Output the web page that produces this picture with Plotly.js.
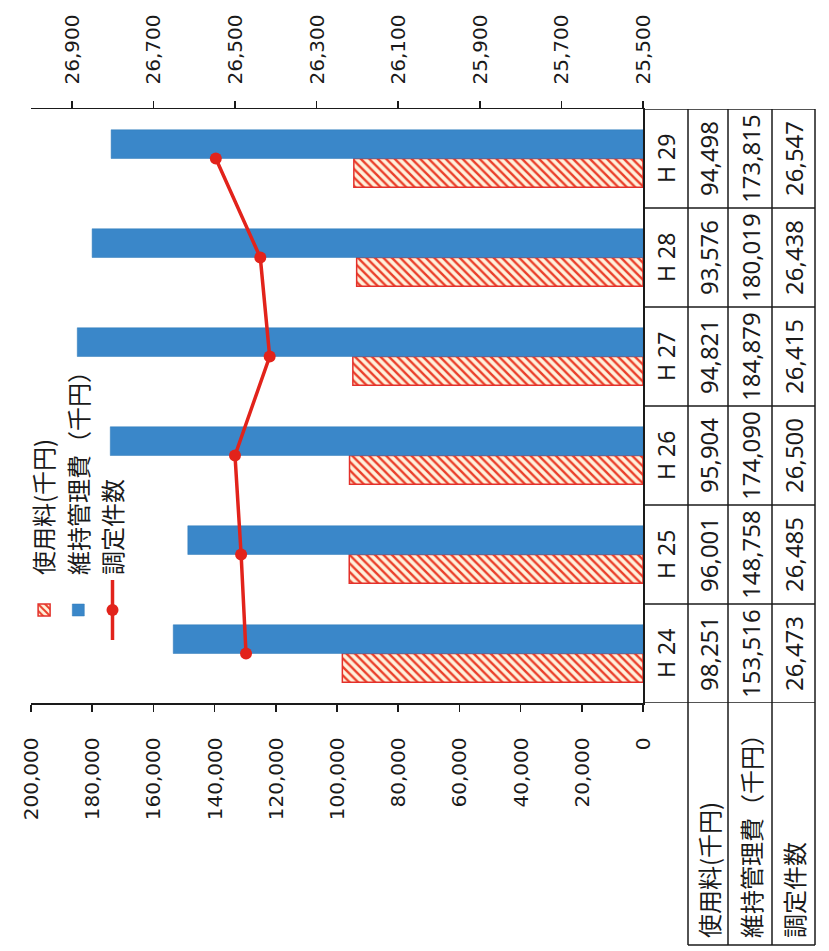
<!DOCTYPE html>
<html>
<head>
<meta charset="utf-8">
<script src="https://cdn.plot.ly/plotly-3.0.1.min.js"></script>
<style>
html,body{margin:0;padding:0;overflow:hidden;background:#ffffff;width:829px;height:951px;}
#wrap{position:absolute;left:0;top:0;width:951px;height:829px;transform-origin:0 0;transform:translate(0,951px) rotate(-90deg);}
#chart{width:951px;height:829px;}
</style>
</head>
<body>
<div id="wrap"><div id="chart"></div></div>
<script>
// ---- data ----
const categories = ['H24', 'H25', 'H26', 'H27', 'H28', 'H29'];
const categoryLabels = ['H 24', 'H 25', 'H 26', 'H 27', 'H 28', 'H 29'];
const usageFee = [98251, 96001, 95904, 94821, 93576, 94498];          // 使用料(千円)
const maintenanceCost = [153516, 148758, 174090, 184879, 180019, 173815]; // 維持管理費（千円）
const assessedCount = [26473, 26485, 26500, 26415, 26438, 26547];     // 調定件数
const seriesNames = ['使用料(千円)', '維持管理費（千円）', '調定件数'];
const rowLabels = ['使用料(千円)', '維持管理費（千円）', '調定件数'];
const secondaryTicks = [25500, 25700, 25900, 26100, 26300, 26500, 26700, 26900];

// ---- layout helpers (chart drawn in its upright frame, then the page rotates it) ----
const W = 951, H = 829;
const ML = 248, MR = 109, MT = 31, MB = 186;
const PW = W - ML - MR, PH = H - MT - MB;
const px = xp => (xp - ML) / PW;
const py = yp => (H - MB - yp) / PH;
const fmt = v => v.toLocaleString('en-US');

const CJK = '"Noto Sans CJK JP", "Noto Sans", sans-serif';
const NUM = '"Noto Sans", "DejaVu Sans", sans-serif';
const AX = '"DejaVu Sans", Verdana, sans-serif';

const traces = [
  {
    type: 'bar', name: seriesNames[0], x: categories, y: usageFee,
    marker: {
      color: '#fff1dc',
      line: {color: '#e3302a', width: 1.5},
      pattern: {shape: '/', fgcolor: '#ea3f2a', bgcolor: '#fff1dc', size: 6, solidity: 0.4}
    },
    hoverinfo: 'skip'
  },
  {
    type: 'bar', name: seriesNames[1], x: categories, y: maintenanceCost,
    marker: {color: '#3a87c9', line: {color: '#2f78b8', width: 0.5}},
    hoverinfo: 'skip'
  },
  {
    type: 'scatter', mode: 'lines+markers', name: seriesNames[2], x: categories, y: assessedCount,
    yaxis: 'y2',
    line: {color: '#e2231b', width: 3.5},
    marker: {color: '#e2231b', size: 12, symbol: 'circle'},
    cliponaxis: false,
    hoverinfo: 'skip'
  }
];

// ---- data table beneath the category axis ----
const rowY = [666, 708, 750, 793];       // row centres (px)
const rowEdges = [688, 728, 772, 815];   // horizontal rules (px)
const annotations = [];
categories.forEach((c, i) => {
  annotations.push({xref: 'x', yref: 'paper', x: c, y: py(rowY[0]), text: categoryLabels[i], showarrow: false,
    font: {family: NUM, size: 23, color: '#1a1a1a'}, xanchor: 'center', yanchor: 'middle'});
  annotations.push({xref: 'x', yref: 'paper', x: c, y: py(rowY[1]), text: fmt(usageFee[i]), showarrow: false,
    font: {family: NUM, size: 24, color: '#1a1a1a'}, xanchor: 'center', yanchor: 'middle'});
  annotations.push({xref: 'x', yref: 'paper', x: c, y: py(rowY[2]), text: fmt(maintenanceCost[i]), showarrow: false,
    font: {family: NUM, size: 24, color: '#1a1a1a'}, xanchor: 'center', yanchor: 'middle'});
  annotations.push({xref: 'x', yref: 'paper', x: c, y: py(rowY[3]), text: fmt(assessedCount[i]), showarrow: false,
    font: {family: NUM, size: 24, color: '#1a1a1a'}, xanchor: 'center', yanchor: 'middle'});
});
rowLabels.forEach((t, r) => {
  annotations.push({xref: 'paper', yref: 'paper', x: px(11), y: py(rowY[r + 1]), text: t, showarrow: false,
    font: {family: CJK, size: 24, color: '#1a1a1a'}, xanchor: 'left', yanchor: 'middle'});
});

const shapes = [];
const lineStyle = {color: '#1a1a1a', width: 1.5};
// horizontal rules
rowEdges.forEach(yp => {
  shapes.push({type: 'line', xref: 'paper', yref: 'paper', x0: px(6), x1: 1, y0: py(yp), y1: py(yp), line: lineStyle});
});
// vertical rules between categories
for (let i = 0; i <= categories.length; i++) {
  shapes.push({type: 'line', xref: 'x', yref: 'paper', x0: i - 0.5, x1: i - 0.5, y0: 0, y1: py(rowEdges[3]), line: lineStyle});
}
// left edge of row-label column
shapes.push({type: 'line', xref: 'paper', yref: 'paper', x0: px(6), x1: px(6), y0: py(rowEdges[0]), y1: py(rowEdges[3]), line: lineStyle});

const layout = {
  width: W, height: H,
  margin: {l: ML, r: MR, t: MT, b: MB, pad: 0},
  paper_bgcolor: '#ffffff', plot_bgcolor: '#ffffff',
  barmode: 'group', bargap: 0.42, bargroupgap: 0,
  showlegend: true,
  legend: {
    x: px(306), y: py(22), xanchor: 'left', yanchor: 'top',
    bgcolor: 'rgba(0,0,0,0)', font: {family: CJK, size: 24, color: '#1a1a1a'},
    itemwidth: 60, traceorder: 'normal'
  },
  xaxis: {
    type: 'category', range: [-0.5, 5.5], showticklabels: false, ticks: '',
    showline: true, linecolor: '#1a1a1a', linewidth: 1.5, showgrid: false, zeroline: false, fixedrange: true
  },
  yaxis: {
    range: [0, 200000], dtick: 20000, tickformat: ',', showgrid: false, zeroline: false,
    showline: true, linecolor: '#1a1a1a', linewidth: 1.5, ticks: 'outside', ticklen: 7, tickwidth: 1.5,
    tickcolor: '#1a1a1a', ticklabelstandoff: 22,
    tickfont: {family: AX, size: 20, color: '#1a1a1a'}, fixedrange: true
  },
  yaxis2: {
    overlaying: 'y', side: 'right', range: [25500, 27000], tickvals: secondaryTicks, tickformat: ',',
    showgrid: false, zeroline: false, showline: true, linecolor: '#1a1a1a', linewidth: 1.5,
    ticks: 'outside', ticklen: 7, tickwidth: 1.5, tickcolor: '#1a1a1a', ticklabelstandoff: 12,
    tickfont: {family: AX, size: 20, color: '#1a1a1a'}, fixedrange: true
  },
  annotations: annotations,
  shapes: shapes
};

Plotly.newPlot('chart', traces, layout, {staticPlot: true, displayModeBar: false});
</script>
</body>
</html>
